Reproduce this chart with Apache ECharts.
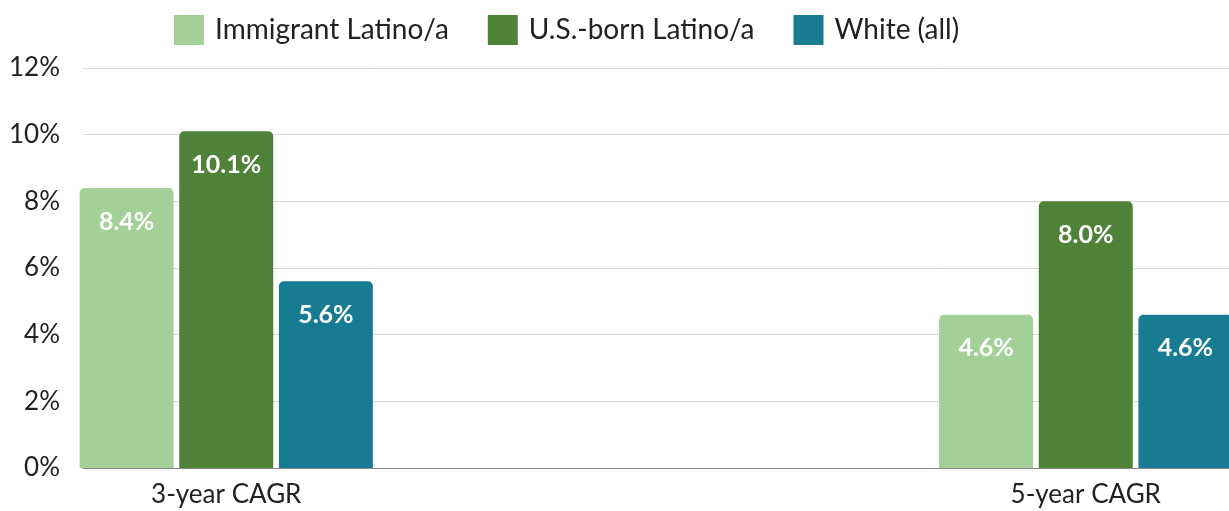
<!DOCTYPE html>
<html>
<head>
<meta charset="utf-8">
<script src="https://cdn.jsdelivr.net/npm/echarts@6/dist/echarts.min.js"></script>
<style>
  html, body { margin: 0; padding: 0; background: #fff; }
  #chart { width: 1229px; height: 511px; }
</style>
</head>
<body>
<div id="chart"></div>
<script>
const categories = ['3-year CAGR', '5-year CAGR']
const immigrantLatino = [8.4, 4.6]
const usBornLatino = [10.1, 8.0]
const whiteAll = [5.6, 4.6]
const yTicks = [0, 2, 4, 6, 8, 10, 12]

// the two groups sit at the far ends of the axis, so pad with two empty slots
const axisData = [categories[0], '', '', categories[1]]
const spread = arr => [arr[0], null, null, arr[1]]

const font = 'Lato'
const chart = echarts.init(document.getElementById('chart'), null, { renderer: 'canvas' })

const barLabel = {
  show: true,
  position: 'insideTop',
  distance: 21,
  color: '#fff',
  fontFamily: font,
  fontWeight: 'bold',
  fontSize: 25,
  formatter: p => p.value.toFixed(1) + '%'
}

function makeSeries(name, data, color) {
  return {
    name: name,
    type: 'bar',
    data: spread(data),
    barWidth: 94,
    barGap: '6%',
    clip: false,
    itemStyle: { color: color, borderRadius: [5, 5, 0, 0] },
    label: barLabel,
    animation: false
  }
}

const option = {
  animation: false,
  legend: {
    top: 10,
    left: 169,
    itemWidth: 30,
    itemHeight: 30,
    itemGap: 39,
    icon: 'rect',
    textStyle: { fontFamily: font, fontSize: 28, color: '#222', padding: [0, 0, 0, 6] },
    data: ['Immigrant Latino/a', 'U.S.-born Latino/a', 'White (all)']
  },
  grid: { left: 83, right: 0, top: 68, bottom: 43 },
  xAxis: {
    type: 'category',
    data: axisData,
    axisTick: { show: false },
    axisLine: { lineStyle: { color: '#888', width: 1 } },
    axisLabel: { fontFamily: font, fontSize: 26, color: '#222', margin: 14, interval: 0 }
  },
  yAxis: {
    type: 'value',
    min: yTicks[0],
    max: yTicks[yTicks.length - 1],
    interval: 2,
    axisLine: { show: false },
    axisTick: { show: false },
    splitLine: { lineStyle: { color: '#d9d9d9', width: 1 } },
    axisLabel: { fontFamily: font, fontSize: 26, color: '#222', margin: 23, formatter: '{value}%' }
  },
  series: [
    makeSeries('Immigrant Latino/a', immigrantLatino, '#a2d096'),
    makeSeries('U.S.-born Latino/a', usBornLatino, '#4e8239'),
    makeSeries('White (all)', whiteAll, '#177b91')
  ]
}

chart.setOption(option)
</script>
</body>
</html>
